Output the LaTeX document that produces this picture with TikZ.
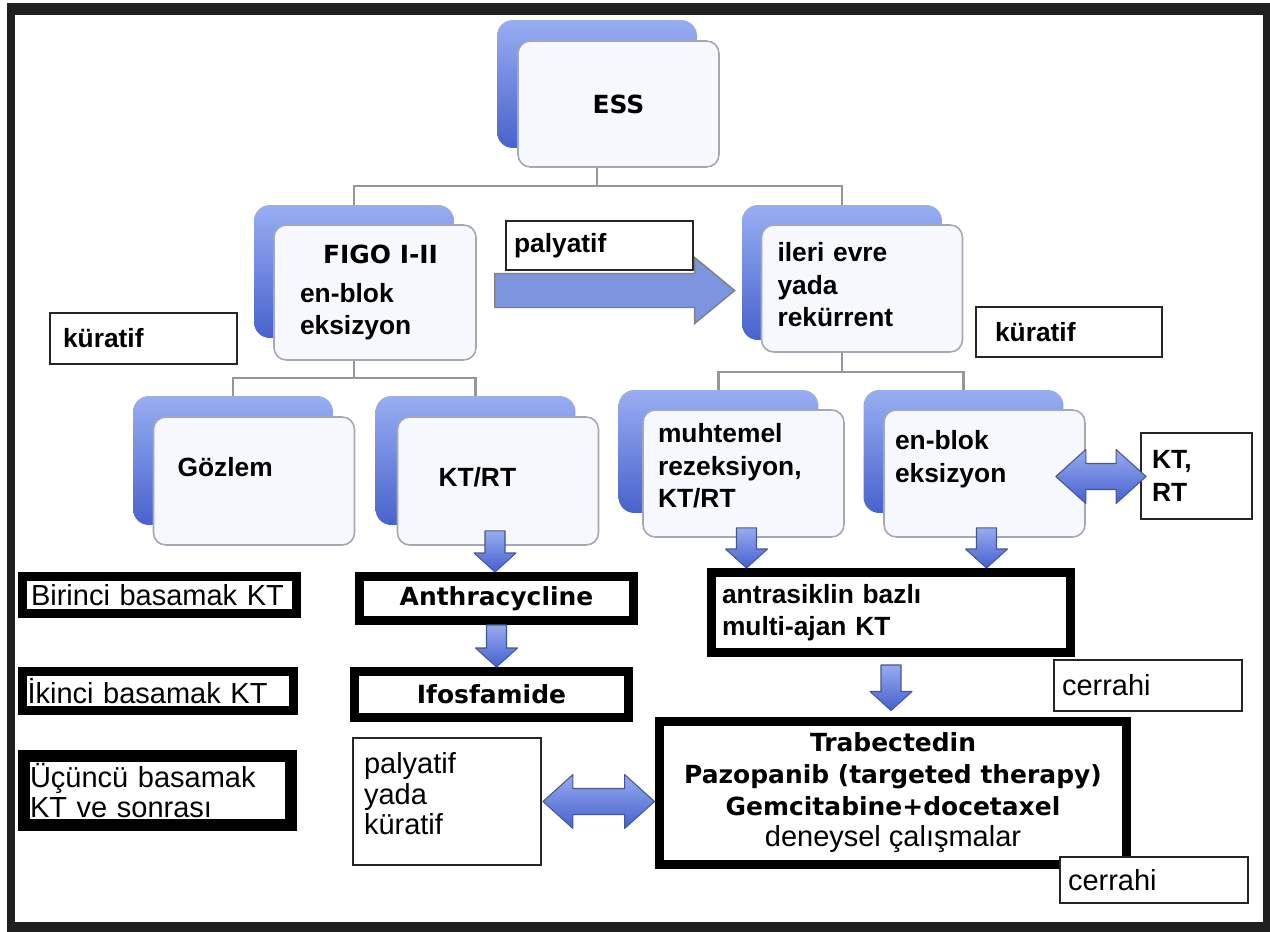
\documentclass[tikz,border=0pt]{standalone}
\usepackage{fontspec}
\setmainfont{Liberation Sans}
\newfontfamily\heavyfont{DejaVu Sans}
\usetikzlibrary{calc}

\definecolor{stackhi}{RGB}{152,174,242}
\definecolor{stacklo}{RGB}{72,98,204}
\definecolor{frontfill}{RGB}{246,248,253}
\definecolor{framegray}{RGB}{165,168,178}
\definecolor{arrowhi}{RGB}{150,172,240}
\definecolor{arrowlo}{RGB}{70,96,205}
\definecolor{arrowline}{RGB}{70,85,150}
\definecolor{arrowmid}{RGB}{125,148,222}
\definecolor{treegray}{RGB}{150,150,150}

\newcommand{\boldtxt}{\fontsize{15}{18.5}\selectfont\bfseries}
\newcommand{\heavytxt}{\heavyfont\fontsize{14.2}{18}\selectfont\bfseries}
\newcommand{\plaintxt}{\normalfont\fontsize{16.5}{17.5}\selectfont}
\newcommand{\lift}[1]{\rule[-#1]{0pt}{#1}}

\tikzstyle{backbox} = [rectangle, rounded corners=9pt, minimum width=4cm, minimum height=2.58cm, top color=stackhi, bottom color=stacklo]
\tikzstyle{frontbox} = [rectangle, rounded corners=7pt, minimum width=4.02cm, minimum height=2.54cm, draw=framegray, line width=0.9pt, fill=frontfill, font=\boldtxt, align=left]
\tikzstyle{heavybox} = [rectangle, draw=black, line width=0.18cm, fill=white, inner ysep=0pt]
\tikzstyle{thinbox} = [rectangle, draw=black!85, line width=1.1pt, fill=white, inner ysep=0pt, align=left]
\tikzstyle{tree} = [draw=treegray, line width=1.2pt]
\tikzstyle{fatarrow} = [top color=arrowhi, bottom color=arrowlo, draw=arrowline, line width=0.6pt, line join=round]
\tikzstyle{bigarrow} = [fill=arrowmid, draw=gray, line width=0.8pt]

% fat block arrows between boxes
\newcommand{\fatdown}[2]{%
  \path[fatarrow] let \p1=(#1), \p2=(#2) in
    (\x1-0.2cm,\y1) -- (\x1+0.2cm,\y1) -- (\x1+0.2cm,\y2+0.38cm)
    -- (\x1+0.42cm,\y2+0.38cm) -- (\x1,\y2) -- (\x1-0.42cm,\y2+0.38cm)
    -- (\x1-0.2cm,\y2+0.38cm) -- cycle;}
\newcommand{\fatright}[2]{%
  \path[bigarrow] let \p1=(#1), \p2=(#2) in
    (\x1,\y1+0.34cm) -- (\x2-0.8cm,\y1+0.34cm) -- (\x2-0.8cm,\y1+0.66cm) -- (\x2,\y1)
    -- (\x2-0.8cm,\y1-0.66cm) -- (\x2-0.8cm,\y1-0.34cm) -- (\x1,\y1-0.34cm) -- cycle;}
\newcommand{\fatboth}[2]{%
  \path[fatarrow] let \p1=(#1), \p2=(#2) in
    (\x1,\y1) -- (\x1+0.6cm,\y1+0.54cm) -- (\x1+0.6cm,\y1+0.26cm) -- (\x2-0.6cm,\y1+0.26cm)
    -- (\x2-0.6cm,\y1+0.54cm) -- (\x2,\y1) -- (\x2-0.6cm,\y1-0.54cm) -- (\x2-0.6cm,\y1-0.26cm)
    -- (\x1+0.6cm,\y1-0.26cm) -- (\x1+0.6cm,\y1-0.54cm) -- cycle;}

\begin{document}
\begin{tikzpicture}[x=0.02cm, y=-0.02cm]
    \useasboundingbox (0,0) rectangle (1270,932);
    \fill[black!88] (7,3) rectangle (1270,932);
    \fill[white] (15,15) rectangle (1263,922);

    % stacked boxes
    \node (essback) [backbox, minimum height=2.56cm] at (597,84) {};
    \node (ess) [frontbox, font=\heavytxt, align=center, minimum height=2.52cm] at (618.5,104) {ESS};
    \node (figoback) [backbox, minimum height=2.66cm] at (354,271.5) {};
    \node (figo) [frontbox, minimum width=4.04cm, minimum height=2.7cm, inner xsep=0.52cm, text width=3cm] at (375,292.5)
        {\hspace*{0.46cm}{\heavytxt FIGO I-II}\\[0.12cm] en-blok\\ eksizyon};
    \node (ileriback) [backbox, minimum height=2.7cm] at (842,272.5) {};
    \node (ileri) [frontbox, inner xsep=0.32cm, text width=3.38cm] at (862,288.5) {ileri evre\\ yada\\ rekürrent\lift{0.16cm}};
    \node (gozback) [backbox] at (233,460.5) {};
    \node (goz) [frontbox, minimum height=2.56cm, inner xsep=0.48cm, text width=3.06cm] at (254,481) {Gözlem\lift{0.56cm}};
    \node (ktrtback) [backbox] at (475.5,460.5) {};
    \node (ktrt) [frontbox, minimum height=2.56cm, inner xsep=0.82cm, text width=2.38cm] at (498,481) {KT/RT\lift{0.16cm}};
    \node (muhback) [backbox, minimum height=2.46cm] at (718.5,451.5) {};
    \node (muh) [frontbox, inner xsep=0.3cm, text width=3.42cm] at (743.5,473.5) {muhtemel\\ rezeksiyon,\\ KT/RT\lift{0.32cm}};
    \node (enbback) [backbox, minimum height=2.46cm] at (963.5,451.5) {};
    \node (enb) [frontbox, inner xsep=0.22cm, text width=3.58cm] at (984.5,473.5) {en-blok\\ eksizyon\lift{0.68cm}};

    % side labels
    \node (palyatif) [thinbox, font=\boldtxt, minimum height=0.98cm, inner xsep=0.16cm, text width=3.42cm] at (599.5,245.5) {palyatif\lift{0.1cm}};
    \node (kuratifL) [thinbox, font=\boldtxt, minimum height=1.02cm, inner xsep=0.26cm, text width=3.22cm] at (143.5,338.5) {küratif};
    \node (kuratifR) [thinbox, font=\boldtxt, minimum height=1cm, inner xsep=0.38cm, text width=2.96cm] at (1069,332) {küratif};
    \node (ktrtside) [thinbox, font=\boldtxt, minimum height=1.72cm, inner xsep=0.22cm, text width=1.78cm] at (1196.5,476) {KT,\\ RT};

    % treatment lines
    \node (birinci) [heavybox, font=\plaintxt, minimum height=0.74cm, inner xsep=0.17cm, text width=5.14cm] at (159.5,595) {Birinci basamak KT};
    \node (ikinci) [heavybox, font=\plaintxt, minimum height=0.78cm, inner xsep=0.1cm, text width=5.22cm] at (158,691) {İkinci basamak KT};
    \node (ucuncu) [heavybox, font=\plaintxt, line width=0.24cm, align=left, minimum height=1.38cm, inner xsep=0.12cm, text width=5.1cm] at (157.5,790.5) {Üçüncü basamak\\ KT ve sonrası};
    \node (anthra) [heavybox, font=\heavytxt, minimum width=5.48cm, minimum height=0.88cm] at (496.5,598.5) {Anthracycline};
    \node (ifos) [heavybox, font=\heavytxt, minimum width=5.48cm, minimum height=0.92cm] at (491.5,694.5) {Ifosfamide};
    \node (antra) [heavybox, font=\boldtxt, align=left, minimum height=1.6cm, inner xsep=0.21cm, text width=6.76cm] at (891,612.5)
        {antrasiklin bazlı\\ multi-ajan KT};
    \node (trab) [heavybox, font=\heavytxt, align=center, minimum width=9.36cm, minimum height=2.88cm] at (893,793)
        {Trabectedin\\ Pazopanib (targeted therapy)\\ Gemcitabine+docetaxel\\ \plaintxt deneysel çalışmalar};
    \node (palykur) [thinbox, font=\plaintxt, minimum height=2.54cm, inner xsep=0.22cm, text width=3.32cm] at (447,801.5)
        {palyatif\\ yada\\ küratif\lift{0.32cm}};
    \node (cerrahiA) [thinbox, font=\plaintxt, minimum height=1.02cm, inner xsep=0.16cm, text width=3.44cm] at (1148,685.5) {cerrahi};
    \node (cerrahiB) [thinbox, font=\plaintxt, minimum height=0.92cm, inner xsep=0.16cm, text width=3.44cm] at (1154,880) {cerrahi};

    % tree connectors
    \coordinate (essfork) at (597,186);
    \coordinate (figofork) at (354,378);
    \coordinate (ilerifork) at (842,372);
    \draw[tree] (essback.south |- ess.south) -- (essfork) -| (figoback.north);
    \draw[tree] (essfork) -| (ileriback.north);
    \draw[tree] (figoback.south |- figo.south) -- (figofork) -| (gozback.north);
    \draw[tree] (figofork) -| (ktrtback.north);
    \draw[tree] (ileriback.south |- ileri.south) -- (ilerifork) -| (muhback.north);
    \draw[tree] (ilerifork) -| (enbback.north);

    % block arrows
    \fatright{$(figo.east)+(18,-2)$}{$(ileriback.west)+(-7,0)$}
    \fatdown{$(ktrt.south)+(-3,-15)$}{anthra.north}
    \fatdown{anthra.south}{ifos.north}
    \fatdown{$(muh.south)+(3,-10)$}{antra.north}
    \fatdown{$(enb.south)+(2,-10)$}{antra.north}
    \fatdown{$(antra.south)+(0,8)$}{$(trab.north)+(0,-6)$}
    \fatboth{$(enb.east)+(-30,3)$}{$(ktrtside.west)+(6,0)$}
    \fatboth{$(palykur.east)+(1,0)$}{trab.west}
\end{tikzpicture}
\end{document}
